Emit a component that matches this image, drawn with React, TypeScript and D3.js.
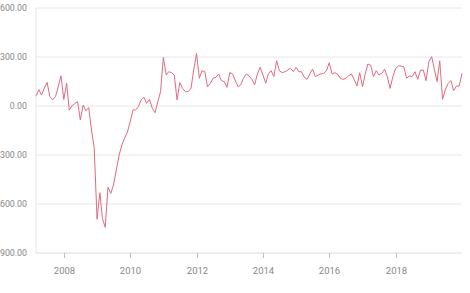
import React from "react";
import * as d3 from "d3";

const startYear = 2007;
const startMonth = 2; // March (0-based)
const values: number[] = [
  60, 100, 67, 110, 145, 57, 38, 57, 118, 185, 40, 139, -25, 2, 15, 26, -86, 6, -29, -10,
  -147, -260, -694, -531, -688, -743, -498, -535, -484, -392, -300, -239, -195, -160, -96, -24, -24, -4, 37, 53,
  16, 41, -14, -41, 26, 88, 298, 190, 210, 204, 190, 37, 143, 108, 88, 88, 108, 220, 322, 170,
  216, 210, 118, 139, 170, 176, 196, 155, 149, 114, 205, 196, 159, 118, 129, 170, 196, 184, 163, 129,
  196, 237, 190, 139, 196, 216, 180, 277, 216, 204, 210, 220, 231, 210, 237, 210, 210, 176, 163, 196,
  226, 180, 190, 196, 200, 216, 265, 196, 204, 196, 170, 163, 170, 185, 196, 163, 122, 204, 118, 200,
  257, 250, 180, 216, 190, 200, 225, 180, 108, 180, 231, 245, 245, 240, 170, 184, 180, 210, 163, 220,
  220, 155, 271, 302, 231, 149, 277, 41, 98, 139, 155, 94, 122, 122, 200,
];
const yTicks: number[] = [600, 300, 0, -300, -600, -900];
const xTickYears: number[] = [2008, 2010, 2012, 2014, 2016, 2018];

const data = values.map((v, i) => ({ date: new Date(startYear, startMonth + i, 1), v }));

export default function App() {
  const W = 470, H = 293;
  const left = 36, right = 462, top = 8, bottom = 253;
  const x = d3.scaleTime().domain(d3.extent(data, (d) => d.date) as [Date, Date]).range([left, right]);
  const y = d3.scaleLinear().domain([-900, 600]).range([bottom, top]);
  const line = d3.line<{ date: Date; v: number }>().x((d) => x(d.date)).y((d) => y(d.v));
  const fmt = d3.format(".2f");
  const font = "Roboto, 'Noto Sans', sans-serif";
  return (
    <svg width={W} height={H} style={{ position: "absolute", left: 0, top: 0 }}>
      <rect width={W} height={H} fill="#fff" />
      {yTicks.map((t) => (
        <g key={t}>
          {t !== -900 && <line x1={left} x2={right} y1={y(t)} y2={y(t)} stroke="#e8e8e8" strokeWidth={1} />}
          <text x={27} y={y(t)} dy="0.35em" textAnchor="end" fontSize={8.8} fill="#888" fontFamily={font}>
            {fmt(t)}
          </text>
        </g>
      ))}
      <line x1={left} x2={left} y1={top} y2={bottom} stroke="#e6e6e6" strokeWidth={1} />
      <line x1={left} x2={right} y1={bottom} y2={bottom} stroke="#dcdcdc" strokeWidth={1} />
      {xTickYears.map((yr) => {
        const xx = Math.round(x(new Date(yr, 0, 1))) + 0.5;
        return (
          <g key={yr}>
            <line x1={xx} x2={xx} y1={bottom} y2={bottom + 5} stroke="#bbb" strokeWidth={1} />
            <text x={xx} y={274} textAnchor="middle" fontSize={9.5} fill="#888" fontFamily={font}>
              {yr}
            </text>
          </g>
        );
      })}
      <path d={line(data) || ""} fill="none" stroke="#e06a80" strokeWidth={1} />
    </svg>
  );
}
